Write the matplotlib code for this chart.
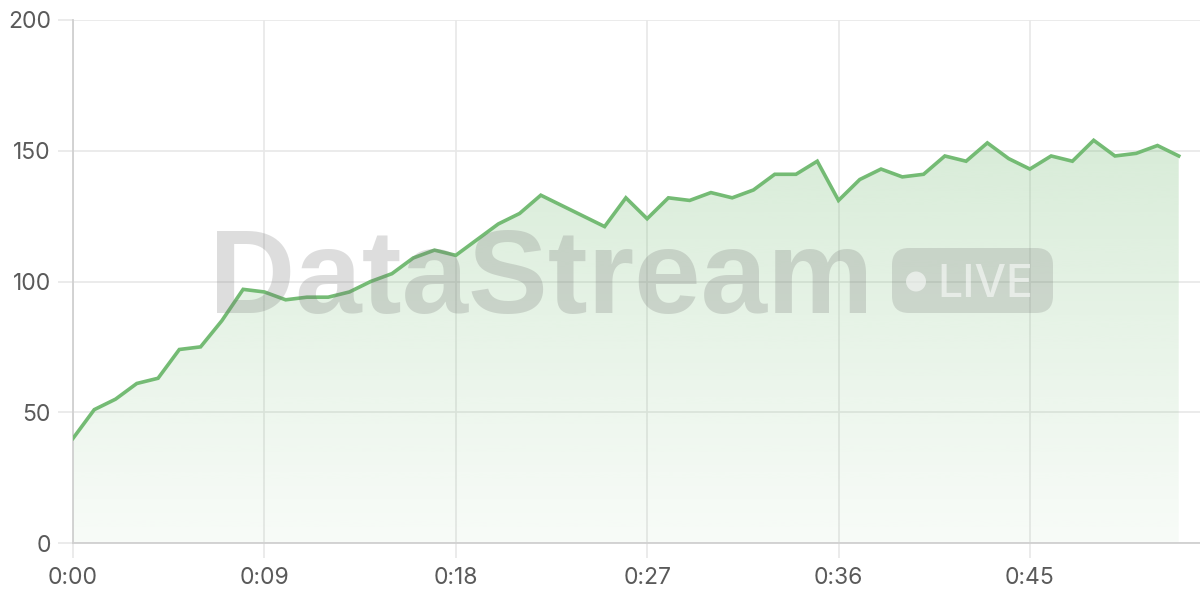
import numpy as np
import matplotlib
matplotlib.use("Agg")
import matplotlib.pyplot as plt
from matplotlib.patches import FancyBboxPatch, Circle

# values per second, 0:00 .. 0:52
seconds = list(range(53))
values = [40, 51, 55, 61, 63, 74, 75, 85, 97, 96,
          93, 94, 94, 96, 100, 103, 109, 112, 110, 116,
          122, 126, 133, 129, 125, 121, 132, 124, 132, 131,
          134, 132, 135, 141, 141, 146, 131, 139, 143, 140,
          141, 148, 146, 153, 147, 143, 148, 146, 154, 148,
          149, 152, 148]
x_ticks = [0, 9, 18, 27, 36, 45]
x_tick_labels = ["0:00", "0:09", "0:18", "0:27", "0:36", "0:45"]
y_ticks = [0, 50, 100, 150, 200]

line_color = "#74bb74"

plt.rcParams['font.family'] = ['Inter', 'DejaVu Sans']

fig = plt.figure(figsize=(12, 6), dpi=100)
ax = fig.add_axes([73 / 1200, 57 / 600, 1127 / 1200, 523 / 600])

# gradient fill under the line
poly = ax.fill_between(seconds, values, 0, color="none", lw=0)
ymax = max(values)
grad = np.linspace(0.05, 0.28, 256).reshape(-1, 1)
rgba = np.zeros((256, 1, 4))
rgba[..., 0] = 116 / 255
rgba[..., 1] = 187 / 255
rgba[..., 2] = 116 / 255
rgba[..., 3] = grad
img = ax.imshow(rgba, extent=[0, seconds[-1], 0, ymax], origin="lower",
                aspect="auto", zorder=1, interpolation="bicubic")
img.set_clip_path(poly.get_paths()[0], transform=ax.transData)
ax.set_xlim(0, 53)
ax.set_ylim(0, 200)

ax.plot(seconds, values, color=line_color, lw=2.6, zorder=5,
        solid_joinstyle="miter")

ax.set_xticks(x_ticks)
ax.set_xticklabels(x_tick_labels)
ax.set_yticks(y_ticks)
ax.grid(True, color="#e8e8e8", lw=1.2, zorder=0)
ax.set_axisbelow(True)
ax.tick_params(axis="both", length=11, width=1.2, color="#e8e8e8",
               labelcolor="#5a5a5a")
ax.tick_params(axis="x", labelsize=16.5, pad=6)
ax.tick_params(axis="y", labelsize=16.5, pad=5)
for s in ["top", "right"]:
    ax.spines[s].set_visible(False)
for s in ["left", "bottom"]:
    ax.spines[s].set_color("#d0d0d0")
    ax.spines[s].set_linewidth(1.3)

# watermark
tr = fig.dpi_scale_trans
fig.text(2.09, 2.87, "DataStream", transform=tr, fontsize=86,
         fontweight="bold", family=["Liberation Sans", "DejaVu Sans"],
         color=(0.45, 0.45, 0.45, 0.24), ha="left", va="baseline", zorder=6)
pill = FancyBboxPatch((8.92, 2.87), 1.61, 0.65, transform=tr,
                      boxstyle="round,pad=0,rounding_size=0.17",
                      fc=(0.45, 0.45, 0.45, 0.22), ec="none", zorder=6)
fig.patches.append(pill)
dot = Circle((9.16, 3.185), 0.10, transform=tr,
             fc=(1, 1, 1, 0.55), ec="none", zorder=7)
fig.patches.append(dot)
fig.text(9.37, 3.03, "LIVE", transform=tr, fontsize=32, fontweight="medium",
         family=["Inter", "DejaVu Sans"],
         color=(1, 1, 1, 0.55), ha="left", va="baseline", zorder=7)

fig.savefig("out.png", dpi=100)
